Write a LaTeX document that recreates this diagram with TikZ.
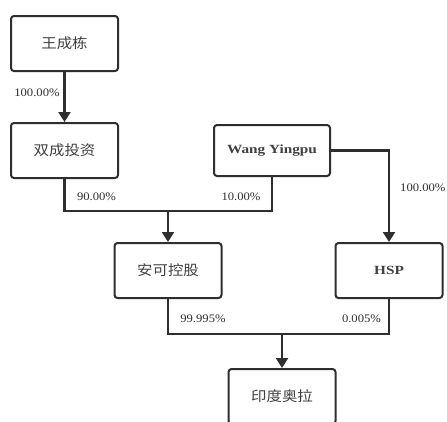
\documentclass[tikz,border=0pt]{standalone}
\usepackage{fontspec}
\setmainfont{Liberation Serif}
\newfontfamily\labfont[FakeStretch=1.1]{Liberation Serif}
\newfontfamily\boxfont[FakeStretch=1.22]{Liberation Serif}
\newfontfamily\cjk[FakeStretch=1.1]{Noto Sans CJK SC}
\usetikzlibrary{arrows.meta}
\definecolor{linec}{HTML}{2E2E2E}
\definecolor{textc}{HTML}{404040}
\tikzset{
  ent/.style={draw=linec, line width=2pt, rounded corners=3pt, minimum width=107pt, minimum height=55pt, inner sep=0pt, fill=white},
  cjkbox/.style={ent, font=\cjk\fontsize{14}{16}\selectfont, text=textc},
  latbox/.style={ent, font=\boxfont\bfseries\fontsize{12.5}{14}\selectfont, text=textc},
  pct/.style={font=\labfont\fontsize{11.5}{13}\selectfont, text=linec, inner sep=0pt},
  conn/.style={draw=linec, line width=2.2pt},
  arr/.style={conn, -{Triangle[length=10pt,width=12pt]}}
}
\begin{document}
\begin{tikzpicture}[x=1pt,y=-1pt]
\clip (0,0) rectangle (447,421);
\fill[white] (0,0) rectangle (447,421);
\node[cjkbox] (wcd) at (64.5,43.5) {王成栋};
\node[cjkbox] (sc) at (64.5,150.5) {双成投资};
\node[latbox, minimum width=116pt, minimum height=51pt] (wy) at (272,150.5) {Wang Yingpu};
\node[cjkbox] (ak) at (168,270.5) {安可控股};
\node[latbox] (hsp) at (389,270.5) {HSP};
\node[cjkbox] (yd) at (282,396.5) {印度奥拉};
\coordinate (j1) at (168,211);
\coordinate (j2) at (282,334);
\draw[arr] (wcd.south) -- (sc.north);
\draw[conn] (sc.south) |- (j1);
\draw[conn] (wy.south) |- (j1);
\draw[arr] (j1) -- (ak.north);
\draw[arr] (wy.east) -| (hsp.north);
\draw[conn] (ak.south) |- (j2);
\draw[conn] (hsp.south) |- (j2);
\draw[arr] (j2) -- (yd.north);
\node[pct] (l1) at (37,93) {100.00\%};
\node[pct] (l2) at (96.5,197) {90.00\%};
\node[pct] (l3) at (241,197) {10.00\%};
\node[pct, anchor=west] (l4) at (400,188) {100.00\%};
\node[pct] (l5) at (203,319) {99.995\%};
\node[pct] (l6) at (361.5,319) {0.005\%};
\end{tikzpicture}
\end{document}
